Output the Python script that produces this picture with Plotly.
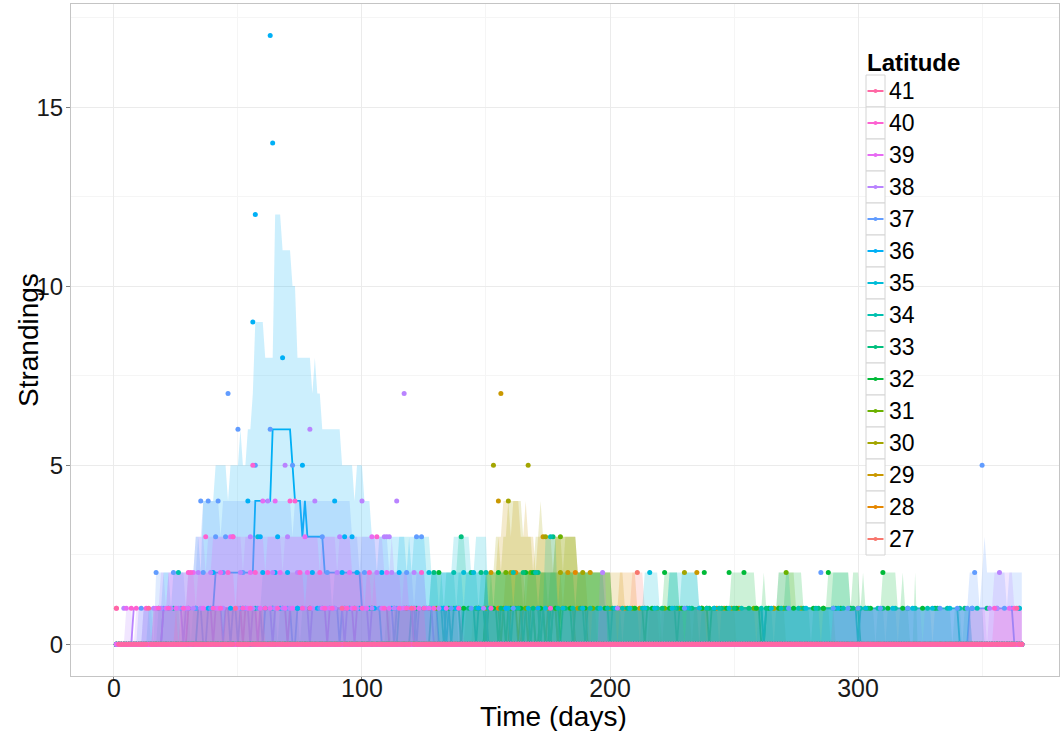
import plotly.graph_objects as go

# ---------------- data ----------------
DAYS = list(range(1, 367))
LATITUDES = [27, 28, 29, 30, 31, 32, 33, 34, 35, 36, 37, 38, 39, 40, 41]
COLORS = ["#F8766D", "#E58700", "#C99800", "#A3A500", "#6BB100", "#00BA38", "#00BF7D",
          "#00C0AF", "#00BCD8", "#00B0F6", "#619CFF", "#B983FF", "#E76BF3", "#FD61D1", "#FF67A4"]
X_TICKS = [0, 100, 200, 300]
Y_TICKS = [0, 5, 10, 15]

# ribbon upper bound: (first day, last day, value); lower bound is 0
up_27 = [(185, 240, 1), (209, 213, 2)]
up_28 = [(150, 250, 1), (158, 190, 2), (204, 210, 2)]
up_29 = [(145, 260, 1), (150, 197, 2), (155, 186, 3), (157, 163, 4), (166, 166, 4), (198, 205, 2)]
up_30 = [(140, 270, 1), (152, 200, 2), (154, 186, 3), (159, 164, 4), (172, 172, 4), (188, 200, 2)]
up_31 = [(130, 290, 1), (150, 200, 2), (178, 186, 3), (268, 274, 2)]
up_32 = [(110, 320, 1), (150, 197, 2), (222, 227, 2), (249, 257, 2), (258, 258, 2), (262, 262, 2),
         (271, 277, 2), (288, 300, 2), (302, 302, 2), (310, 315, 2), (318, 318, 2), (323, 323, 2)]
up_33 = [(30, 345, 1), (128, 200, 2), (139, 141, 3), (290, 296, 2)]
up_34 = [(18, 350, 1), (128, 150, 2), (174, 178, 3), (224, 235, 2), (268, 272, 2)]
up_35 = [(14, 345, 1), (60, 150, 2), (115, 127, 3), (137, 143, 3), (146, 150, 3),
         (214, 219, 2), (224, 235, 2)]
up_36 = [(12, 345, 1), (20, 150, 2), (33, 125, 3), (36, 103, 4), (41, 100, 5), (51, 51, 6),
         (54, 55, 6), (56, 56, 7), (57, 60, 9), (61, 64, 8), (65, 67, 12), (68, 71, 11),
         (72, 73, 10), (74, 79, 8), (80, 80, 7), (81, 81, 8), (82, 83, 7), (84, 91, 6)]
up_37 = [(10, 366, 1), (17, 125, 2), (34, 110, 3), (36, 95, 4), (345, 366, 2), (351, 351, 3)]
up_38 = [(5, 140, 1), (19, 125, 2), (33, 108, 3), (112, 112, 3), (196, 198, 2), (290, 366, 1), (355, 362, 2)]
up_39 = [(12, 130, 1), (22, 118, 2), (40, 95, 3), (345, 366, 1)]
up_40 = [(16, 125, 1), (30, 105, 2), (355, 366, 1)]
up_41 = [(25, 60, 1)]

# days where the ribbon upper bound drops by one
dip_27 = [195, 220]
dip_28 = [166, 181, 230]
dip_29 = [160, 170, 177, 215, 240]
dip_30 = [156, 169, 181, 233, 262]
dip_31 = [141, 165, 175, 221, 289]
dip_32 = [112, 139, 153, 171, 186, 205, 236, 281, 297]
dip_33 = [75, 133, 161, 179, 212, 244, 266, 307, 338]
dip_34 = [31, 66, 138, 147, 192, 228, 259, 311, 342]
dip_35 = [27, 58, 88, 120, 131, 203, 239, 316]
dip_36 = [23, 35, 46, 97, 106, 118, 141, 163, 285, 330]
dip_37 = [16, 29, 43, 72, 99, 121, 180, 230, 300, 326, 349, 360]
dip_38 = [8, 21, 37, 52, 68, 90, 116, 352]
dip_39 = [15, 33, 61, 83, 104]
dip_40 = [26, 49, 77, 101]
dip_41 = [44]

# median line: (first day, last day, value); 0 elsewhere
med_27 = []
med_28 = []
med_29 = [(165, 178, 1)]
med_30 = [(160, 185, 1)]
med_31 = [(150, 190, 1)]
med_32 = [(150, 260, 1)]
med_33 = [(128, 300, 1)]
med_34 = [(120, 340, 1)]
med_35 = [(115, 150, 1)]
med_36 = [(34, 40, 1), (41, 56, 2), (57, 63, 4), (64, 71, 6), (72, 72, 5), (73, 75, 4), (76, 76, 3),
          (77, 77, 4), (78, 84, 3), (85, 99, 2), (100, 107, 1)]
med_37 = [(20, 130, 1), (345, 362, 1)]
med_38 = [(8, 128, 1)]
med_39 = [(20, 120, 1)]
med_40 = [(30, 110, 1)]
med_41 = []

# days where the median dips to zero
mdip_29 = [170, 171]
mdip_30 = [163, 174, 176]
mdip_31 = [156, 167, 179]
mdip_32 = [155, 158, 170, 171, 174, 175, 185, 214, 240]
mdip_33 = [140, 150, 165, 168, 172, 176, 180, 190, 227, 262]
mdip_34 = [133, 136, 146, 160, 200, 262, 300]
mdip_35 = [121, 134]
mdip_37 = [36, 37, 47, 50, 60, 72, 73, 91, 113, 122]
mdip_38 = [28, 44, 55, 64, 79, 93, 103]
mdip_39 = [40, 58, 86, 97]
mdip_40 = [52, 70]

# observed strandings of one animal (days)
one_27 = [190, 204, 226, 236]
one_28 = [155, 171, 188, 206, 214, 243, 252, 268]
one_29 = [147, 160, 175, 184, 199, 212, 231, 237, 246, 259, 266]
one_30 = [150, 163, 178, 187, 200, 219, 228, 237, 249, 266, 277, 300]
one_31 = [130, 146, 157, 166, 181, 193, 209, 222, 239, 258, 270, 286, 303]
one_32 = [104, 118, 127, 135, 141, 147, 153, 160, 164, 172, 178, 184, 190, 198, 203, 210, 217, 224,
          229, 237, 242, 247, 251, 259, 264, 268, 274, 282, 286, 293, 297, 305, 312, 318, 326, 331]
one_33 = [64, 79, 97, 113, 122, 129, 137, 143, 149, 156, 162, 169, 176, 182, 188, 195, 201, 207, 215,
          221, 227, 233, 240, 245, 250, 256, 263, 271, 278, 284, 291, 298, 304, 310, 320, 332, 343, 352]
one_34 = [24, 40, 57, 74, 93, 117, 125, 133, 139, 146, 151, 158, 163, 170, 179, 185, 192, 199, 205,
          213, 219, 226, 232, 239, 244, 253, 261, 269, 276, 283, 290, 294, 301, 308, 315, 323, 328,
          336, 341, 348, 365]
one_35 = [18, 33, 52, 68, 84, 103, 121, 132, 138, 145, 152, 159, 167, 174, 181, 189, 196, 202, 208,
          214, 218, 225, 231, 236, 242, 248, 265, 279, 292, 303, 314, 322, 330, 337, 346, 365]
one_36 = [22, 30, 38, 47, 53, 61, 67, 74, 82, 87, 95, 99, 105, 112, 119, 126, 133, 138, 147, 158, 171]
one_37 = [11, 20, 27, 33, 39, 45, 51, 58, 64, 70, 76, 83, 89, 95, 101, 107, 114, 120, 128, 136, 144,
          161, 230, 272, 285, 290, 296, 300, 309, 320, 333, 340, 344, 346, 356, 359, 362]
one_38 = [4, 16, 19, 23, 26, 29, 32, 35, 41, 44, 50, 53, 56, 62, 65, 68, 71, 77, 80, 86, 89, 92, 98,
          101, 104, 110, 113, 116, 119, 126, 131, 149, 203, 353, 356]
one_39 = [5, 17, 21, 25, 30, 36, 42, 47, 54, 59, 63, 69, 72, 78, 84, 87, 93, 96, 102, 108, 111, 117,
          123, 127, 134, 361]
one_40 = [1, 7, 9, 13, 18, 22, 28, 31, 37, 40, 43, 46, 52, 55, 61, 66, 73, 76, 79, 85, 88, 94, 97,
          100, 106, 109, 115, 118, 121, 125, 129, 139, 152, 176, 355, 363]
one_41 = [1, 14, 49, 92, 120, 364]

# observed strandings of two or more animals: (day, count)
pts_27 = [(211, 2)]
pts_28 = [(162, 2), (170, 2), (186, 2)]
pts_29 = [(156, 7), (155, 4), (173, 3), (152, 2), (183, 2), (192, 2), (235, 2)]
pts_30 = [(153, 5), (167, 5), (159, 4), (174, 3), (160, 2), (180, 2), (189, 2), (230, 2)]
pts_31 = [(180, 3), (158, 2), (168, 2), (271, 2)]
pts_32 = [(131, 2), (155, 2), (166, 2), (169, 2), (222, 2), (238, 2), (248, 2), (254, 2), (288, 2), (310, 2)]
pts_33 = [(140, 3), (177, 3), (129, 2), (144, 2), (148, 2), (165, 2), (171, 2)]
pts_34 = [(176, 3), (26, 2), (137, 2), (150, 2), (161, 2), (170, 2)]
pts_35 = [(58, 3), (127, 2), (141, 2), (145, 2), (216, 2)]
pts_36 = [(63, 17), (64, 14), (57, 12), (56, 9), (65, 8), (68, 8), (76, 5), (54, 4), (89, 4), (59, 3),
          (66, 3), (93, 3), (96, 3), (40, 2), (60, 2), (65, 2), (70, 2), (80, 2), (92, 2), (98, 2),
          (108, 2), (115, 2)]
pts_37 = [(46, 7), (50, 6), (63, 6), (57, 5), (72, 5), (350, 5), (35, 4), (38, 4), (42, 4), (41, 3),
          (45, 3), (84, 3), (122, 3), (124, 3), (17, 2), (24, 2), (36, 2), (44, 2), (52, 2), (86, 2),
          (101, 2), (118, 2), (285, 2), (347, 2)]
pts_38 = [(117, 7), (79, 6), (69, 5), (62, 4), (81, 4), (100, 4), (114, 4), (48, 3), (55, 3), (70, 3),
          (90, 3), (91, 3), (109, 3), (110, 3), (111, 3), (34, 2), (39, 2), (51, 2), (64, 2), (74, 2),
          (90, 2), (106, 2), (112, 2), (121, 2), (197, 2), (357, 2)]
pts_39 = [(60, 4), (65, 4), (47, 3), (77, 3), (104, 3), (32, 2), (43, 2), (55, 2), (67, 2), (78, 2),
          (95, 2), (110, 2)]
pts_40 = [(56, 5), (71, 4), (73, 4), (37, 3), (48, 3), (106, 3), (30, 2), (31, 2), (46, 2), (57, 2),
          (62, 2), (75, 2), (83, 2), (103, 2), (124, 2)]
pts_41 = []

UPPERS = [up_27, up_28, up_29, up_30, up_31, up_32, up_33, up_34, up_35, up_36, up_37, up_38, up_39, up_40, up_41]
DIPS = [dip_27, dip_28, dip_29, dip_30, dip_31, dip_32, dip_33, dip_34, dip_35, dip_36, dip_37, dip_38, dip_39, dip_40, dip_41]
MEDS = [med_27, med_28, med_29, med_30, med_31, med_32, med_33, med_34, med_35, med_36, med_37, med_38, med_39, med_40, med_41]
MDIPS = [[], [], mdip_29, mdip_30, mdip_31, mdip_32, mdip_33, mdip_34, mdip_35, [], mdip_37, mdip_38, mdip_39, mdip_40, []]
ONES = [one_27, one_28, one_29, one_30, one_31, one_32, one_33, one_34, one_35, one_36, one_37, one_38, one_39, one_40, one_41]
PTS = [pts_27, pts_28, pts_29, pts_30, pts_31, pts_32, pts_33, pts_34, pts_35, pts_36, pts_37, pts_38, pts_39, pts_40, pts_41]


def daily(segments, dips):
    vals = {d: 0 for d in DAYS}
    for s, e, v in segments:
        for d in range(s, e + 1):
            vals[d] = v
    for d in dips:
        vals[d] = max(vals[d] - 1, 0)
    return [vals[d] for d in DAYS]


def rgba(hexc, a):
    h = hexc.lstrip("#")
    return "rgba(%d,%d,%d,%.3f)" % (int(h[0:2], 16), int(h[2:4], 16), int(h[4:6], 16), a)


fig = go.Figure()

# median lines (drawn first, under the ribbons)
for lat, col, md, mdp in zip(LATITUDES, COLORS, MEDS, MDIPS):
    fig.add_trace(go.Scatter(x=DAYS, y=daily(md, mdp), mode="lines",
                             line=dict(color=col, width=1.8), showlegend=False, name=str(lat),
                             hoverinfo="skip"))
# ribbons
for lat, col, up, dp in zip(LATITUDES, COLORS, UPPERS, DIPS):
    fig.add_trace(go.Scatter(x=DAYS, y=daily(up, dp), mode="lines", fill="tozeroy",
                             fillcolor=rgba(col, 0.2), line=dict(width=0, color=col),
                             hoverinfo="skip", showlegend=False))
# observed counts (zero for days not listed)
for lat, col, ones, pts in zip(LATITUDES, COLORS, ONES, PTS):
    counts = {d: 0 for d in DAYS}
    for d in ones:
        counts[d] = 1
    for d, c in pts:
        counts[d] = c
    fig.add_trace(go.Scatter(x=DAYS, y=[counts[d] for d in DAYS], mode="markers",
                             marker=dict(color=col, size=5), showlegend=False, name=str(lat)))

# ---------------- layout ----------------
L, R, T, B = 71, 1059, 4, 676


def fx(px):
    return (px - L) / (R - L)


def fy(py):
    return (B - py) / (B - T)


FONT = "Liberation Sans, Arial, sans-serif"
shapes = []
annotations = []
# legend background
shapes.append(dict(type="rect", xref="paper", yref="paper", x0=fx(862), x1=fx(967), y0=fy(557), y1=fy(44),
                   fillcolor="white", line=dict(width=0), layer="below"))
annotations.append(dict(xref="paper", yref="paper", x=fx(865), y=fy(62), xanchor="left", yanchor="middle",
                        text="<b>Latitude</b>", showarrow=False, font=dict(size=24, family=FONT, color="black")))
for i, (lat, col) in enumerate(reversed(list(zip(LATITUDES, COLORS)))):
    yc = 91 + 32 * i
    shapes.append(dict(type="rect", xref="paper", yref="paper", x0=fx(866), x1=fx(885),
                       y0=fy(yc + 16), y1=fy(yc - 16), line=dict(color="#D4D4D4", width=1),
                       fillcolor="white", layer="above"))
    shapes.append(dict(type="line", xref="paper", yref="paper", x0=fx(867.5), x1=fx(883.5),
                       y0=fy(yc), y1=fy(yc), line=dict(color=col, width=2), layer="above"))
    shapes.append(dict(type="circle", xref="paper", yref="paper", x0=fx(873.5), x1=fx(877.5),
                       y0=fy(yc + 2), y1=fy(yc - 2), line=dict(width=0), fillcolor=col, layer="above"))
    annotations.append(dict(xref="paper", yref="paper", x=fx(887), y=fy(yc), xanchor="left",
                            yanchor="middle", text=str(lat), showarrow=False,
                            font=dict(size=23, family=FONT, color="black")))
# axis titles
annotations.append(dict(xref="paper", yref="paper", x=fx(553), y=fy(716), xanchor="center", yanchor="middle",
                        text="Time (days)", showarrow=False, font=dict(size=28, family=FONT, color="black")))
annotations.append(dict(xref="paper", yref="paper", x=fx(28), y=fy(340), xanchor="center", yanchor="middle",
                        text="Strandings", textangle=-90, showarrow=False,
                        font=dict(size=28, family=FONT, color="black")))

fig.update_layout(
    width=1062, height=731,
    margin=dict(l=L, r=1062 - R, t=T, b=731 - B, autoexpand=False),
    paper_bgcolor="white", plot_bgcolor="white",
    font=dict(family=FONT, color="black"),
    showlegend=False,
    shapes=shapes, annotations=annotations,
    xaxis=dict(range=[-17.3, 381], tickvals=X_TICKS, ticktext=[str(v) for v in X_TICKS],
               automargin=False,
               showgrid=True, gridcolor="#EBEBEB", gridwidth=1, zeroline=False,
               minor=dict(dtick=50, tick0=0, showgrid=True, gridcolor="#F5F5F5", gridwidth=1),
               showline=True, mirror=True, linecolor="#C4C4C4", linewidth=1,
               ticks="outside", ticklen=4, tickcolor="#7F7F7F", ticklabelstandoff=-14,
               tickfont=dict(size=25, color="#1a1a1a")),
    yaxis=dict(range=[-0.89, 17.88], tickvals=Y_TICKS, ticktext=[str(v) for v in Y_TICKS],
               automargin=False,
               showgrid=True, gridcolor="#EBEBEB", gridwidth=1, zeroline=False,
               minor=dict(dtick=2.5, tick0=0, showgrid=True, gridcolor="#F5F5F5", gridwidth=1),
               showline=True, mirror=True, linecolor="#C4C4C4", linewidth=1,
               ticks="outside", ticklen=4, tickcolor="#7F7F7F", ticklabelstandoff=-2,
               tickfont=dict(size=24, color="#1a1a1a")),
)

fig.write_html("out.html", config={"displayModeBar": False},
               post_script="document.body.style.margin='0';document.body.style.overflow='hidden';")
